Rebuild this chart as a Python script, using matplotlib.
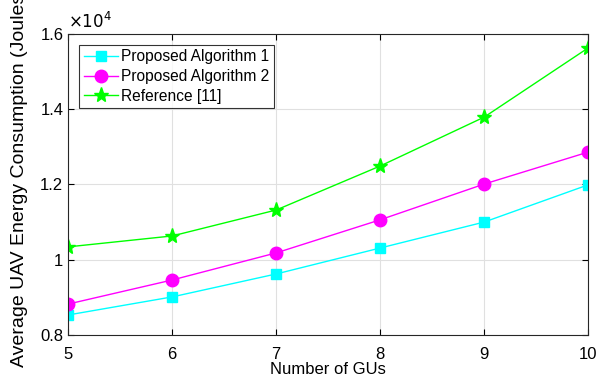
import matplotlib
matplotlib.use("Agg")
import matplotlib.pyplot as plt
from matplotlib.ticker import FuncFormatter

plt.rcParams['font.family'] = ['Liberation Sans', 'DejaVu Sans']

num_gus = [5, 6, 7, 8, 9, 10]
alg1 = [8530, 9010, 9620, 10310, 11000, 11990]
alg2 = [8820, 9460, 10180, 11060, 12010, 12860]
ref11 = [10340, 10630, 11320, 12490, 13790, 15630]
labels = ["Proposed Algorithm 1", "Proposed Algorithm 2", "Reference [11]"]

fig = plt.figure(figsize=(6.09, 3.81), dpi=100)
ax = fig.add_axes([0.112, 0.121, 0.854, 0.790])

ax.plot(num_gus, alg1, color="#00ffff", marker="s", markersize=6.5, lw=1, label=labels[0])
ax.plot(num_gus, alg2, color="#ff00ff", marker="o", markersize=9, lw=1, label=labels[1])
ax.plot(num_gus, ref11, color="#00ff00", marker="*", markersize=11, lw=1, label=labels[2])

ax.set_xlim(5, 10)
ax.set_ylim(8000, 16000)
ax.set_xticks(num_gus)
ax.set_yticks([8000, 10000, 12000, 14000, 16000])
ax.yaxis.set_major_formatter(FuncFormatter(lambda v, p: f"{v / 1e4:g}"))
ax.tick_params(direction="in", top=True, right=True, labelsize=12, length=4, width=0.8)
ax.tick_params(axis="x", pad=9)
ax.grid(True, color="#e0e0e0", lw=0.8)
ax.set_axisbelow(True)
for s in ax.spines.values():
    s.set_color("#262626")
    s.set_linewidth(0.8)

ax.text(0.0, 1.01, r"$\times10^4$", transform=ax.transAxes, fontsize=12, va="bottom", ha="left")
ax.set_xlabel("Number of GUs", fontsize=12, labelpad=0)
# label runs off the top edge, as in the original figure
ax.set_ylabel("Average UAV Energy Consumption (Joules)", fontsize=14)
ax.yaxis.set_label_coords(-0.078, 0.525)

leg = ax.legend(loc="upper left", fontsize=11.2, frameon=True, fancybox=False,
                edgecolor="black", borderaxespad=0.7, handlelength=2.2,
                handletextpad=0.2, borderpad=0.3, labelspacing=0.3)
leg.get_frame().set_linewidth(0.8)

fig.savefig("out.png", dpi=100)
